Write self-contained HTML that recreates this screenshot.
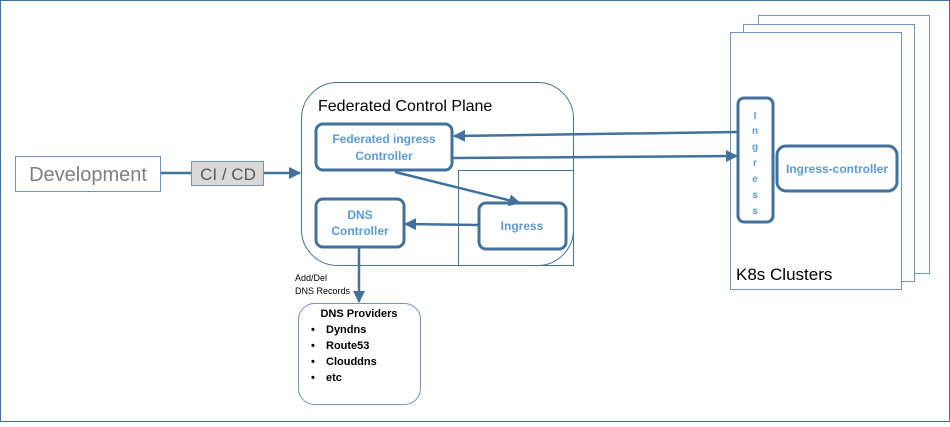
<!DOCTYPE html>
<html><head><meta charset="utf-8"><style>
body{margin:0;width:950px;height:422px;overflow:hidden;background:#fff;font-family:"Liberation Sans",sans-serif}
</style></head><body>
<svg width="950" height="422" xmlns="http://www.w3.org/2000/svg" font-family="Liberation Sans, sans-serif">
<defs><marker id="a" markerWidth="8" markerHeight="8" refX="7" refY="4" orient="auto" markerUnits="userSpaceOnUse"><path d="M0,0 L8,4 L0,8 z" fill="#41719c"/></marker>
<marker id="b" markerWidth="12" markerHeight="12" refX="11" refY="6" orient="auto" markerUnits="userSpaceOnUse"><path d="M0,0 L12,6 L0,12 z" fill="#41719c"/></marker></defs>
<rect x="0.5" y="0.5" width="949" height="421" fill="#fff" stroke="#41719c"/>
<!-- K8s stacks -->
<rect x="758.5" y="15.5" width="171" height="258" fill="#fff" stroke="#6f93c0"/>
<rect x="743.5" y="24.5" width="171" height="257" fill="#fff" stroke="#6f93c0"/>
<rect x="730.5" y="32.5" width="171" height="257" fill="#fff" stroke="#6f93c0"/>
<text x="736" y="280" font-size="17" fill="#000">K8s Clusters</text>
<rect x="738" y="98" width="35" height="124" rx="6" fill="#fff" stroke="#41719c" stroke-width="3"/>
<g font-size="10" font-weight="bold" fill="#5b9bd5" text-anchor="middle">
<text x="755" y="119">I</text><text x="755" y="134">n</text><text x="755" y="150">g</text><text x="755" y="166">r</text><text x="755" y="182">e</text><text x="755" y="198">s</text><text x="755" y="214">s</text></g>
<rect x="777" y="146" width="120" height="45" rx="9" fill="#fff" stroke="#41719c" stroke-width="3"/>
<text x="837" y="173" font-size="12" font-weight="bold" fill="#5b9bd5" text-anchor="middle">Ingress-controller</text>
<!-- Development -->
<rect x="15.5" y="156.5" width="145" height="35" fill="#fff" stroke="#6f93c0"/>
<text x="88" y="181" font-size="20" fill="#7f7f7f" text-anchor="middle">Development</text>
<line x1="161" y1="173" x2="192" y2="173" stroke="#41719c" stroke-width="2.5"/>
<rect x="191.5" y="161.5" width="72" height="24" fill="#d9d9d9" stroke="#6f93c0"/>
<text x="228" y="180" font-size="17" fill="#595959" text-anchor="middle">CI / CD</text>
<line x1="264" y1="173" x2="300" y2="173" stroke="#41719c" stroke-width="2.5" marker-end="url(#b)"/>
<!-- FCP -->
<rect x="301.5" y="82.5" width="272" height="183" rx="36" fill="#fff" stroke="#41719c"/>
<text x="318" y="111" font-size="16" fill="#000">Federated Control Plane</text>
<rect x="458.5" y="170.5" width="115" height="95" fill="none" stroke="#41719c"/>
<rect x="316" y="124" width="136" height="46" rx="7" fill="#fff" stroke="#41719c" stroke-width="3"/>
<text x="384" y="143" font-size="12" font-weight="bold" fill="#5b9bd5" text-anchor="middle">Federated ingress</text>
<text x="384" y="160" font-size="12" font-weight="bold" fill="#5b9bd5" text-anchor="middle">Controller</text>
<rect x="316" y="199" width="88" height="48" rx="7" fill="#fff" stroke="#41719c" stroke-width="3"/>
<text x="360" y="219" font-size="12" font-weight="bold" fill="#5b9bd5" text-anchor="middle">DNS</text>
<text x="360" y="235" font-size="12" font-weight="bold" fill="#5b9bd5" text-anchor="middle">Controller</text>
<rect x="479" y="203" width="87" height="46" rx="7" fill="#fff" stroke="#41719c" stroke-width="3"/>
<text x="522" y="230" font-size="12" font-weight="bold" fill="#5b9bd5" text-anchor="middle">Ingress</text>
<!-- arrows -->
<line x1="737" y1="132" x2="454" y2="136" stroke="#41719c" stroke-width="2.5" marker-end="url(#b)"/>
<line x1="453" y1="158" x2="737" y2="156" stroke="#41719c" stroke-width="2.5" marker-end="url(#b)"/>
<line x1="395" y1="172" x2="520" y2="203" stroke="#41719c" stroke-width="2.5" marker-end="url(#b)"/>
<line x1="478" y1="225" x2="405" y2="224" stroke="#41719c" stroke-width="2.5" marker-end="url(#b)"/>
<line x1="359" y1="248" x2="359" y2="302" stroke="#41719c" stroke-width="2.5" marker-end="url(#b)"/>
<text x="295" y="281" font-size="9" fill="#000">Add/Del</text>
<text x="295" y="294" font-size="9" fill="#000">DNS Records</text>
<!-- DNS providers -->
<rect x="298.5" y="303.5" width="122" height="101" rx="16" fill="#fff" stroke="#6f93c0"/>
<g font-size="11" font-weight="bold" fill="#000">
<text x="359" y="317" text-anchor="middle">DNS Providers</text>
<text x="311" y="333">•</text><text x="326" y="333">Dyndns</text>
<text x="311" y="349">•</text><text x="326" y="349">Route53</text>
<text x="311" y="365">•</text><text x="326" y="365">Clouddns</text>
<text x="311" y="381">•</text><text x="326" y="381">etc</text></g>
</svg>
</body></html>
